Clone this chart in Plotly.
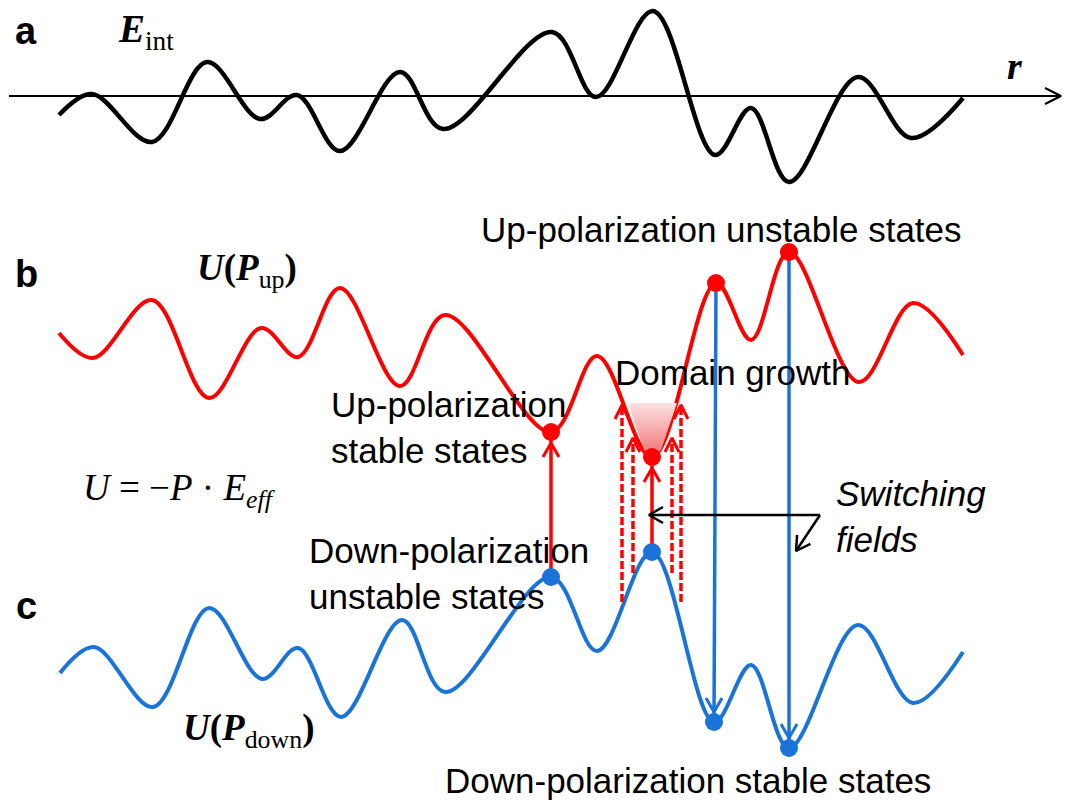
import plotly.graph_objects as go

# ---------------------------------------------------------------------------
# Data (drawing coordinates: r to the right, y measured downward from the top)
# ---------------------------------------------------------------------------

# Panel a: internal field E_int(r), extrema along r
r_field = [59, 92, 152, 207, 260, 297, 340, 400, 443, 552, 596, 653, 715, 751, 789, 858, 911, 963]
e_field = [115, 94, 142, 62, 119, 95, 151, 72, 129, 32, 97, 11, 155, 108, 182, 77, 138, 98]
axis_y = 96
axis_x = [9, 1061]

# Panel b: energy landscape U(P_up)
r_up = [59, 93, 152, 209, 261, 298, 340, 400, 445, 551, 597, 652, 716, 751, 789, 859, 913, 963]
u_up = [333, 358, 300, 398, 328, 357, 288, 386, 315, 432, 356, 457, 283, 340, 252, 382, 303, 355]

# Panel c: energy landscape U(P_down)
r_down = [60, 94, 153, 209, 262, 298, 341, 402, 445, 551, 597, 652, 714, 751, 789, 858, 913, 963]
u_down = [673, 647, 707, 608, 679, 648, 717, 620, 692, 577, 651, 552, 722, 665, 748, 625, 703, 652]

# Switching sites (indices into the landscapes)
up_switch = [9, 11]      # down-unstable -> up-stable
down_switch = [12, 14]   # up-unstable -> down-stable

# Domain growth: dashed field lines (x, start on U_down, end on U_up)
growth_x = [622, 633, 672, 681]
growth_bottom = [602, 573, 573, 602]
growth_top = [405, 438, 438, 405]

# Domain growth region outline
growth_fill_x = [628, 677, 661, 652, 644, 628]
growth_fill_y = [403, 403, 450, 457, 450, 403]

# "Switching fields" pointer: hub and the two tips
sw_hub = (820, 515)
sw_tip_x = [649, 796]
sw_tip_y = [515, 551]

RED = "#ff0000"
BLUE = "#1a73d9"
SANS = "Liberation Sans, Arial, sans-serif"
SERIF = "Liberation Serif, Times New Roman, serif"


def chevron(xt, yt, x0, y0, length=14, half=8):
    """Open arrow head at (xt, yt) for a shaft coming from (x0, y0)."""
    dx, dy = xt - x0, yt - y0
    n = (dx * dx + dy * dy) ** 0.5
    ux, uy = dx / n, dy / n
    bx, by = xt - ux * length, yt - uy * length
    px, py = -uy, ux
    return ([bx + px * half, xt, bx - px * half, None],
            [by + py * half, yt, by - py * half, None])


fig = go.Figure()

# --- panel a: axis with arrow, field curve -------------------------------
fig.add_trace(go.Scatter(x=axis_x, y=[axis_y, axis_y], mode="lines",
                         line=dict(color="black", width=2)))
hx, hy = chevron(axis_x[1], axis_y, axis_x[0], axis_y, length=16, half=8)
fig.add_trace(go.Scatter(x=hx, y=hy, mode="lines", line=dict(color="black", width=2)))
fig.add_trace(go.Scatter(x=r_field, y=e_field, mode="lines",
                         line=dict(color="black", width=4.5, shape="spline", smoothing=1.0)))

# --- landscapes ------------------------------------------------------------
fig.add_trace(go.Scatter(x=r_up, y=u_up, mode="lines",
                         line=dict(color=RED, width=4, shape="spline", smoothing=1.0)))
fig.add_trace(go.Scatter(x=r_down, y=u_down, mode="lines",
                         line=dict(color=BLUE, width=4, shape="spline", smoothing=1.0)))

# --- domain growth shading ---------------------------------------------------
fig.add_trace(go.Scatter(
    x=growth_fill_x, y=growth_fill_y, mode="lines", fill="toself",
    line=dict(width=0, color="rgba(0,0,0,0)"),
    fillgradient=dict(type="vertical", start=min(growth_fill_y), stop=max(growth_fill_y),
                      colorscale=[[0, "#fde2e2"], [1, "#f07070"]]),
))

# --- dashed growth arrows ------------------------------------------------------
for gx, gb, gt in zip(growth_x, growth_bottom, growth_top):
    fig.add_trace(go.Scatter(x=[gx, gx], y=[gb, gt], mode="lines",
                             line=dict(color=RED, width=3.5, dash="8px,3px")))
gcx, gcy = [], []
for gx, gb, gt in zip(growth_x, growth_bottom, growth_top):
    cx, cy = chevron(gx, gt, gx, gb, length=14, half=7)
    gcx += cx
    gcy += cy
fig.add_trace(go.Scatter(x=gcx, y=gcy, mode="lines", line=dict(color=RED, width=3)))

# --- switching arrows: up (red) and down (blue) --------------------------------
rsx, rsy, rcx, rcy = [], [], [], []
for i in up_switch:
    rsx += [r_down[i], r_up[i], None]
    rsy += [u_down[i], u_up[i], None]
    cx, cy = chevron(r_up[i], u_up[i] + 11, r_down[i], u_down[i], length=14, half=8)
    rcx += cx
    rcy += cy
fig.add_trace(go.Scatter(x=rsx, y=rsy, mode="lines", line=dict(color=RED, width=3.5)))
fig.add_trace(go.Scatter(x=rcx, y=rcy, mode="lines", line=dict(color=RED, width=3)))

bsx, bsy, bcx, bcy = [], [], [], []
for i in down_switch:
    bsx += [r_up[i], r_down[i], None]
    bsy += [u_up[i], u_down[i], None]
    cx, cy = chevron(r_down[i], u_down[i] - 10, r_up[i], u_up[i], length=14, half=8)
    bcx += cx
    bcy += cy
fig.add_trace(go.Scatter(x=bsx, y=bsy, mode="lines", line=dict(color=BLUE, width=3.5)))
fig.add_trace(go.Scatter(x=bcx, y=bcy, mode="lines", line=dict(color=BLUE, width=3)))

# --- state markers --------------------------------------------------------------
sites = up_switch + down_switch
fig.add_trace(go.Scatter(x=[r_up[i] for i in sites], y=[u_up[i] for i in sites],
                         mode="markers", marker=dict(color=RED, size=18, line=dict(width=0))))
fig.add_trace(go.Scatter(x=[r_down[i] for i in sites], y=[u_down[i] for i in sites],
                         mode="markers", marker=dict(color=BLUE, size=18, line=dict(width=0))))

# --- "Switching fields" pointer -------------------------------------------------
px, py = [], []
for tx, ty in zip(sw_tip_x, sw_tip_y):
    px += [sw_hub[0], tx, None]
    py += [sw_hub[1], ty, None]
    cx, cy = chevron(tx, ty, sw_hub[0], sw_hub[1], length=14, half=8)
    px += cx
    py += cy
fig.add_trace(go.Scatter(x=px, y=py, mode="lines", line=dict(color="black", width=2.5)))

# --- text -------------------------------------------------------------------------
def label(x, y, text, family=SANS, size=35, color="black"):
    fig.add_annotation(x=x, y=y, text=text, showarrow=False, xanchor="left",
                       yanchor="middle", align="left",
                       font=dict(family=family, size=size, color=color))

label(13, 31, "<b>a</b>", size=38)
label(13, 274, "<b>b</b>", size=38)
label(14, 606, "<b>c</b>", size=38)

label(116, 31, "<b><i>E</i></b><sub>int</sub>", family=SERIF, size=39)
label(1005, 66, "<b><i>r</i></b>", family=SERIF, size=38)
label(195, 270, "<b><i>U</i>(<i>P</i></b><sub>up</sub><b>)</b>", family=SERIF, size=37)
label(181, 730, "<b><i>U</i>(<i>P</i></b><sub>down</sub><b>)</b>", family=SERIF, size=37)
label(81, 490, "<i>U</i> = −<i>P</i> · <i>E</i><sub><i>eff</i></sub>", family=SERIF, size=37)

label(479, 229, "Up-polarization unstable states")
label(613, 372, "Domain growth")
label(329, 427, "Up-polarization<br>stable states")
label(307, 573, "Down-polarization<br>unstable states")
label(834, 516, "<i>Switching<br>fields</i>")
label(443, 780, "Down-polarization stable states")

fig.update_layout(
    width=1073, height=803,
    margin=dict(l=0, r=0, t=0, b=0),
    paper_bgcolor="white", plot_bgcolor="white",
    showlegend=False,
    xaxis=dict(range=[0, 1073], visible=False, fixedrange=True),
    yaxis=dict(range=[803, 0], visible=False, fixedrange=True),
)

fig.write_html("out.html", config={"displayModeBar": False})
